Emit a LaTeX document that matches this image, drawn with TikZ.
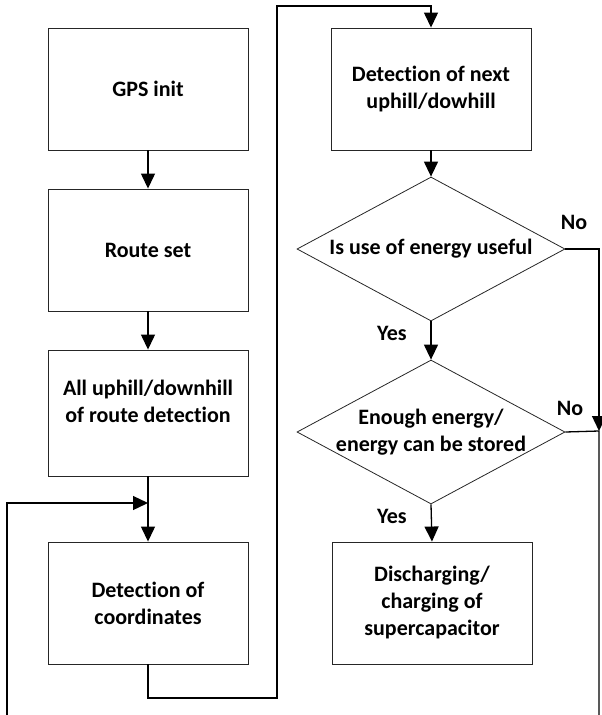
\documentclass[tikz,border=0pt]{standalone}
\usepackage{fontspec}
\setmainfont{Carlito}[Ligatures=NoCommon]
\usetikzlibrary{arrows.meta,shapes.geometric}
\tikzset{
  block/.style={draw=black!85, line width=0.9pt, minimum width=200pt, minimum height=122pt, inner sep=0pt},
  decision/.style={draw=black!85, line width=0.8pt, diamond, minimum width=268pt, minimum height=144pt, inner sep=0pt},
  caption/.style={font=\bfseries\fontsize{22}{27}\selectfont, align=center, inner sep=0pt},
  flow/.style={line width=1.3pt, -{Triangle[length=15pt,width=14pt]}},
  plain/.style={line width=1.3pt}
}
\begin{document}
\begin{tikzpicture}[x=1pt, y=-1pt]
                    \useasboundingbox (0,0) rectangle (602,715);
                    
                    % Drawing left column
                    \node [block, caption] (gps) at (148,89) {GPS init};%
                    \node [block, caption] (route) at (148,250) {Route set};%
                    \node [block, minimum height=126pt] (allup) at (148,413) {};%
                    \node [caption] (alluptext) at (148,401) {All uphill/downhill\\of route detection};%
                    \node [block, caption] (coord) at (148,603) {Detection of\\coordinates};%
                    
                    % Drawing right column
                    \node [block, caption] (next) at (431,89) {Detection of next\\uphill/dowhill};%
                    \node [decision] (use) at (431,249) {};%
                    \node [caption] (usetext) at (use) {Is use of energy useful};%
                    \node [decision] (enough) at (431,432) {};%
                    \node [caption] (enoughtext) at (enough) {Enough energy/\\energy can be stored};%
                    \node [block, caption] (charge) at (432,603) {Discharging/\\charging of\\supercapacitor};%
                    
                    % Marking corners of the lines
                    \coordinate (join) at (148,503);%
                    \coordinate (leftend) at (7,715);%
                    \coordinate (loopbot) at (277,698);%
                    \coordinate (looptop) at (277,6);%
                    \coordinate (rightjoin) at (599,431);%
                    \coordinate (rightend) at (599,715);%
                    
                    % Drawing arrows of left column
                    \draw [flow] (gps) -- (route);%
                    \draw [flow] (route) -- (allup);%
                    \draw [flow] (allup) -- (coord);%
                    \draw [flow] (leftend) |- (join);%
                    
                    % Drawing line from coordinates to next
                    \draw [flow] (coord.south) |- (loopbot) -- (looptop) -| (next.north);%
                    
                    % Drawing arrows of right column
                    \draw [flow] (next) -- (use.north);%
                    \draw [flow] (use.south) -- (enough.north);%
                    \draw [flow] (enough.south) -- (charge.north);%
                    \draw [flow] (use.east) -| (rightjoin);%
                    \draw [plain] (enough.east) -- (rightjoin) -- (rightend);%
                    
                    % Marking answers
                    \node [caption] (no1) at (574,222) {No};%
                    \node [caption] (no2) at (570,408) {No};%
                    \node [caption] (yes1) at (392,333) {Yes};%
                    \node [caption] (yes2) at (392,516) {Yes};%
                \end{tikzpicture}
\end{document}
